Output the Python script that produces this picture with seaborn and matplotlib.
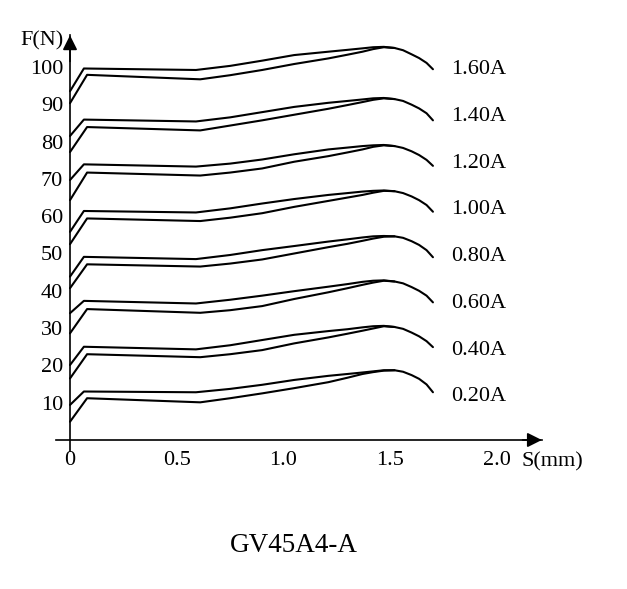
import matplotlib
matplotlib.use("Agg")
import matplotlib.pyplot as plt
import seaborn as sns
import pandas as pd

# ---- data ----
currents = ["0.20A", "0.40A", "0.60A", "0.80A", "1.00A", "1.20A", "1.40A", "1.60A"]

s_upper = [0, 0.065, 0.59, 0.75, 0.90, 1.05, 1.21, 1.30, 1.37, 1.42, 1.47,
           1.52, 1.56, 1.60, 1.635, 1.67, 1.70]
s_lower = [0, 0.08, 0.61, 0.75, 0.90, 1.05, 1.21, 1.30, 1.37, 1.42, 1.47, 1.52]

f_upper_020 = [9.4, 13.0, 12.8, 13.7, 14.8, 16.1, 17.2, 17.7, 18.1, 18.4, 18.7, 18.7, 18.3, 17.4, 16.4, 14.9, 12.8]
f_lower_020 = [4.9, 11.2, 10.1, 11.2, 12.5, 13.9, 15.5, 16.7, 17.7, 18.2, 18.6, 18.7]
f_upper_040 = [20.1, 25.0, 24.3, 25.4, 26.8, 28.2, 29.2, 29.7, 30.2, 30.5, 30.6, 30.3, 29.8, 28.8, 27.8, 26.5, 24.9]
f_lower_040 = [16.5, 23.0, 22.2, 23.0, 24.1, 25.9, 27.5, 28.5, 29.3, 29.9, 30.5, 30.3]
f_upper_060 = [34.0, 37.3, 36.6, 37.6, 38.7, 39.9, 41.1, 41.8, 42.4, 42.7, 42.8, 42.5, 42.0, 41.0, 40.0, 38.7, 36.9]
f_lower_060 = [28.6, 35.1, 34.1, 34.8, 35.9, 37.8, 39.6, 40.7, 41.6, 42.2, 42.7, 42.5]
f_upper_080 = [43.8, 49.1, 48.5, 49.6, 50.9, 52.0, 53.2, 53.8, 54.3, 54.6, 54.7, 54.6, 54.2, 53.3, 52.3, 50.9, 49.0]
f_lower_080 = [40.7, 47.1, 46.5, 47.3, 48.4, 50.0, 51.7, 52.6, 53.4, 54.0, 54.5, 54.6]
f_upper_100 = [55.8, 61.4, 61.0, 62.1, 63.4, 64.6, 65.7, 66.2, 66.6, 66.8, 66.9, 66.7, 66.2, 65.3, 64.3, 63.0, 61.2]
f_lower_100 = [52.5, 59.4, 58.7, 59.6, 60.8, 62.5, 64.1, 65.0, 65.7, 66.3, 66.8, 66.7]
f_upper_120 = [69.7, 73.9, 73.3, 74.1, 75.2, 76.6, 77.9, 78.4, 78.8, 79.0, 79.1, 78.8, 78.3, 77.4, 76.4, 75.1, 73.5]
f_lower_120 = [64.3, 71.7, 70.9, 71.7, 72.8, 74.6, 76.1, 77.1, 77.9, 78.6, 79.0, 78.8]
f_upper_140 = [81.5, 85.9, 85.4, 86.5, 87.9, 89.3, 90.4, 90.9, 91.3, 91.6, 91.7, 91.4, 90.9, 89.9, 88.9, 87.6, 85.7]
f_lower_140 = [77.2, 83.9, 83.0, 84.3, 85.7, 87.2, 88.8, 89.8, 90.6, 91.2, 91.6, 91.4]
f_upper_160 = [93.5, 99.6, 99.2, 100.3, 101.7, 103.2, 104.1, 104.6, 105.0, 105.3, 105.4, 105.1, 104.5, 103.4, 102.4, 101.1, 99.4]
f_lower_160 = [90.3, 97.9, 96.7, 97.8, 99.2, 100.8, 102.3, 103.3, 104.1, 104.8, 105.3, 105.1]

label_y = [11.6, 24.1, 36.5, 49.1, 61.8, 74.2, 86.7, 99.2]

x_ticks = [0, 0.5, 1.0, 1.5, 2.0]
x_ticklabels = ["0", "0.5", "1.0", "1.5", "2.0"]
y_ticks = [10, 20, 30, 40, 50, 60, 70, 80, 90, 100]

uppers = [f_upper_020, f_upper_040, f_upper_060, f_upper_080,
          f_upper_100, f_upper_120, f_upper_140, f_upper_160]
lowers = [f_lower_020, f_lower_040, f_lower_060, f_lower_080,
          f_lower_100, f_lower_120, f_lower_140, f_lower_160]

rows = []
for cur, up, lo in zip(currents, uppers, lowers):
    for s, f in zip(s_upper, up):
        rows.append({"S": s, "F": f, "line": cur + "_up"})
    for s, f in zip(s_lower, lo):
        rows.append({"S": s, "F": f, "line": cur + "_lo"})
df = pd.DataFrame(rows)

# ---- style ----
sns.set_theme(style="white")
plt.rcParams["font.family"] = ["Liberation Serif", "DejaVu Serif"]

W, H = 627, 589
fig = plt.figure(figsize=(W / 100, H / 100), dpi=100)

xmin, xmax = -0.066, 2.21
ymin, ymax = -3.0, 108.5
px_x = 213.5
px_y = 3.73
left_px = 70 + xmin * px_x
ax = fig.add_axes([left_px / W,
                   1 - (440 - ymin * px_y) / H,
                   (xmax - xmin) * px_x / W,
                   (ymax - ymin) * px_y / H])

sns.lineplot(data=df, x="S", y="F", units="line", estimator=None,
             sort=False, color="black", lw=1.5, ax=ax, legend=False)

ax.set_xlim(xmin, xmax)
ax.set_ylim(ymin, ymax)
for side in ["top", "right"]:
    ax.spines[side].set_visible(False)
ax.spines["left"].set_position(("data", 0))
ax.spines["bottom"].set_position(("data", 0))
for side in ["left", "bottom"]:
    ax.spines[side].set_linewidth(1.2)
    ax.spines[side].set_color("black")

ax.set_xticks(x_ticks)
ax.set_xticklabels(x_ticklabels)
ax.set_yticks(y_ticks)
ax.tick_params(axis="both", direction="in", length=6, width=1.2,
               colors="black", labelsize=16)
ax.tick_params(axis="x", pad=8)
ax.tick_params(axis="y", pad=5)
ax.set_xlabel("")
ax.set_ylabel("")

# arrow heads
ax.annotate("", xy=(xmax, 0), xytext=(xmax - 0.09, 0),
            arrowprops=dict(arrowstyle="-|>", color="black", lw=1.2,
                            mutation_scale=22, shrinkA=0, shrinkB=0),
            annotation_clip=False)
ax.annotate("", xy=(0, ymax), xytext=(0, ymax - 7),
            arrowprops=dict(arrowstyle="-|>", color="black", lw=1.2,
                            mutation_scale=22, shrinkA=0, shrinkB=0),
            annotation_clip=False)

# axis labels
ax.text(2.115, -5.8, "S(mm)", fontsize=16, ha="left", va="center",
        color="black", clip_on=False)
ax.text(-0.03, 107, "F(N)", fontsize=16, ha="right", va="center",
        color="black", clip_on=False)

# curve labels
for cur, ly in zip(currents, label_y):
    ax.text(1.785, ly, cur, fontsize=16, ha="left", va="center", color="black")

fig.text(294 / W, 1 - 545 / H, "GV45A4-A", fontsize=19.5, ha="center",
         va="center", color="black")

fig.savefig("out.png", dpi=100)
